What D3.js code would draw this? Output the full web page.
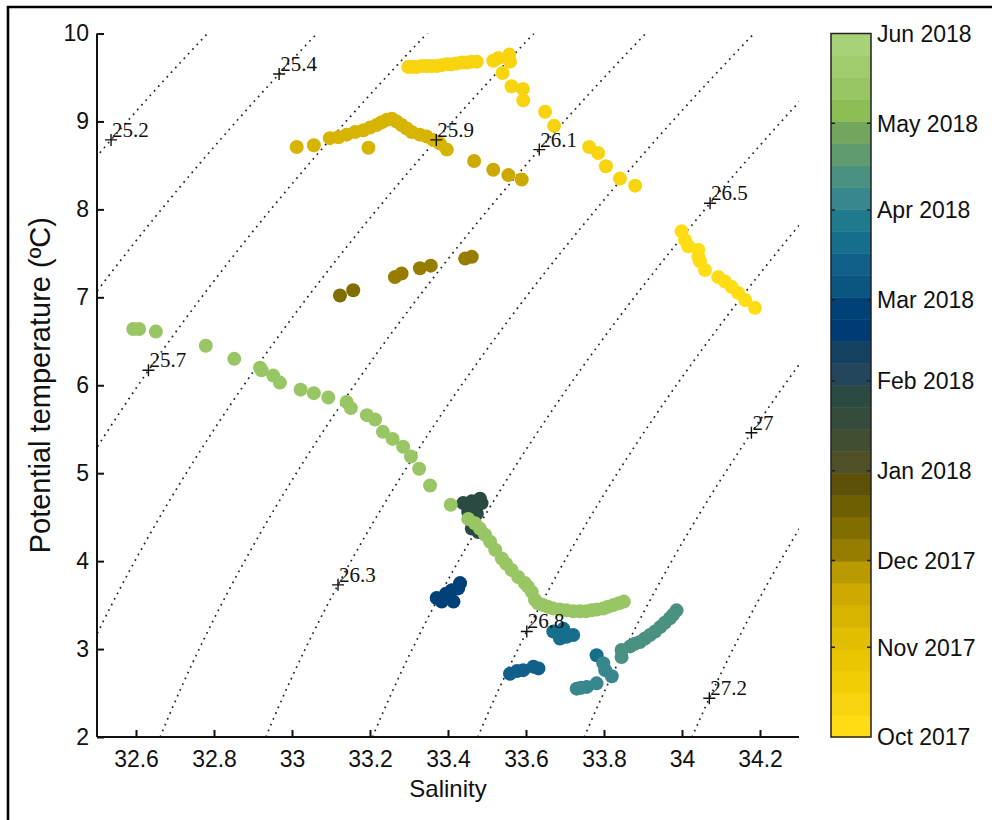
<!DOCTYPE html>
<html><head><meta charset="utf-8">
<script src="https://cdn.jsdelivr.net/npm/d3@7"></script>
<style>body{margin:0;background:#fff} svg{display:block}</style>
</head><body>
<svg id="chart" width="992" height="820"></svg>
<script>
// ---------------- DATA ----------------
const xTicks = [32.6, 32.8, 33, 33.2, 33.4, 33.6, 33.8, 34, 34.2];
const yTicks = [2, 3, 4, 5, 6, 7, 8, 9, 10];
const cbTickDates = ["2017-10-01","2017-11-01","2017-12-01","2018-01-01","2018-02-01","2018-03-01","2018-04-01","2018-05-01","2018-06-01"];
const cbTickLabels = ["Oct 2017","Nov 2017","Dec 2017","Jan 2018","Feb 2018","Mar 2018","Apr 2018","May 2018","Jun 2018"];

// isopycnal labels and the (S, T) point where each label sits on its line
const isoLabels  = ["25.2","25.4","25.7","25.9","26.1","26.3","26.5","26.8","27","27.2"];
const isoAnchorS = [32.536, 32.967, 32.632, 33.370, 33.634, 33.118, 34.072, 33.602, 34.178, 34.070];
const isoAnchorT = [8.79, 9.54, 6.17, 8.79, 8.68, 3.73, 8.07, 3.20, 5.46, 2.44];

// observations: salinity, potential temperature, date
const salinity = [
 // early Oct 2017 (right cluster)
 33.999,34.008,34.016,34.042,34.042,34.046,34.059,34.093,34.110,34.127,34.144,34.162,34.187,
 // Oct 2017 upper band
 33.298,33.309,33.320,33.332,33.345,33.358,33.371,33.384,33.397,33.409,33.422,33.435,33.448,33.461,33.474,33.516,33.529,33.557,33.559,33.540,
 // Oct 2017 descending
 33.563,33.592,33.593,33.649,33.672,33.762,33.785,33.805,33.841,33.880,
 // Nov 2017
 33.012,33.056,33.097,33.119,33.140,33.162,33.183,33.200,33.217,33.230,33.243,33.256,33.268,33.281,33.294,33.307,33.328,33.345,33.362,33.379,33.397,33.196,
 33.467,33.516,33.555,33.589,
 // Dec 2017
 33.444,33.461,33.328,33.356,33.264,33.281,
 33.123,33.157,
 // late Jan 2018
 33.439,33.461,33.482,33.486,33.452,33.474,33.461,33.478,33.467,
 // Mar 2018
 33.371,33.384,33.395,33.410,33.426,33.431,33.414,
 33.559,33.593,33.619,33.632,33.577,
 33.670,33.696,33.721,33.687,33.704,
 33.781,
 // Apr 2018
 33.798,33.803,33.820,33.730,33.756,33.781,33.741,
 33.845,33.845,33.867,33.879,33.892,33.905,33.918,33.931,33.944,33.956,33.969,33.977,33.986,
 // May 2018
 32.593,32.608,32.651,32.779,32.852,32.918,32.922,32.952,32.969,33.022,33.056,33.093,33.140,33.151,33.192,33.213,33.233,33.258,33.285,33.305,33.326,33.354,33.407,
 33.452,33.469,33.482,33.495,33.508,33.521,33.538,33.549,33.563,33.580,33.597,33.605,33.615,33.623,33.631,33.644,33.656,33.670,33.687,33.704,33.721,33.738,33.754,33.768,33.782,33.798,33.810,33.824,33.838,33.851
];
const temperature = [
 7.75,7.65,7.58,7.54,7.46,7.41,7.31,7.23,7.18,7.12,7.05,6.97,6.88,
 9.62,9.62,9.62,9.63,9.63,9.63,9.63,9.64,9.65,9.65,9.66,9.67,9.67,9.68,9.68,9.69,9.72,9.76,9.68,9.55,
 9.40,9.37,9.24,9.11,8.95,8.71,8.64,8.49,8.35,8.27,
 8.71,8.73,8.81,8.82,8.85,8.88,8.90,8.93,8.96,8.99,9.02,9.03,9.00,8.96,8.92,8.88,8.85,8.83,8.79,8.75,8.68,8.70,
 8.55,8.45,8.39,8.34,
 7.44,7.46,7.33,7.36,7.23,7.27,
 7.02,7.08,
 4.66,4.68,4.71,4.66,4.56,4.54,4.37,4.33,4.47,
 3.58,3.54,3.63,3.67,3.69,3.75,3.54,
 2.72,2.76,2.80,2.78,2.75,
 3.20,3.23,3.16,3.12,3.14,
 2.93,
 2.84,2.76,2.69,2.55,2.57,2.61,2.56,
 2.91,2.99,3.03,3.06,3.08,3.12,3.16,3.20,3.25,3.30,3.35,3.39,3.44,
 6.64,6.64,6.61,6.45,6.30,6.20,6.17,6.11,6.03,5.95,5.91,5.86,5.81,5.74,5.66,5.61,5.47,5.39,5.30,5.19,5.05,4.86,4.64,
 4.48,4.43,4.37,4.30,4.22,4.13,4.03,3.97,3.90,3.82,3.75,3.71,3.65,3.56,3.52,3.50,3.48,3.46,3.45,3.44,3.43,3.43,3.43,3.44,3.45,3.46,3.48,3.50,3.52,3.54
];
const groupDates = [
 ["2017-10-04",13],["2017-10-10",20],["2017-10-16",10],["2017-11-10",22],["2017-11-16",4],
 ["2017-12-05",6],["2017-12-12",2],["2018-01-28",9],["2018-03-01",7],["2018-03-12",5],
 ["2018-03-18",5],["2018-03-22",1],["2018-04-05",7],["2018-04-10",13],["2018-05-12",23],["2018-05-14",30]
];
const dates = groupDates.flatMap(([d,n]) => Array(n).fill(d));

// colormap, bottom (Oct 2017) to top (Jun 2018), 32 levels
const colormap = [
 "#ffdc14","#f8d40f","#f0cd05","#ebc600","#e1be00","#d7b400","#cdaa00","#b99b00",
 "#967d00","#826e00","#6e5f00","#5f5008","#505028","#414e32","#374b3c","#2b4a42",
 "#23465a","#14415f","#003c73","#004178","#0a5582","#125f8c","#146e8c","#1e7a8c",
 "#37878c","#4b9182","#5f9b6e","#73a55f","#8cbe55","#98c664","#a0cc6e","#a8d278"
];

// ---------------- CHART ----------------
const svg = d3.select("#chart");
const W = 992, H = 820;
const plot = {left: 97, right: 799, top: 33.5, bottom: 737};

const x = d3.scaleLinear().domain([32.5, 34.3]).range([plot.left, plot.right]);
const y = d3.scaleLinear().domain([2, 10]).range([plot.bottom, plot.top]);

const parse = d3.timeParse("%Y-%m-%d");
const tDomain = [parse(cbTickDates[0]), parse(cbTickDates[cbTickDates.length-1])];
const cbY = d3.scaleTime().domain(tDomain).range([plot.bottom, plot.top]);
const tNorm = d3.scaleTime().domain(tDomain).range([0, 1]).clamp(true);
const colorOf = d => colormap[Math.min(colormap.length-1, Math.floor(tNorm(parse(d)) * colormap.length))];

// outer frame (left and top edges visible)
svg.append("path").attr("d", `M8,${H} V7 H${W}`).attr("fill","none").attr("stroke","#000").attr("stroke-width",2.6);

// clip
svg.append("clipPath").attr("id","clip").append("rect")
  .attr("x", plot.left).attr("y", plot.top).attr("width", plot.right-plot.left).attr("height", plot.bottom-plot.top);

// EOS-80 sigma-theta at p = 0
function sigma(S, T){
  const T2=T*T, T3=T2*T, T4=T3*T, T5=T4*T;
  const rw = 999.842594 + 6.793952e-2*T - 9.095290e-3*T2 + 1.001685e-4*T3 - 1.120083e-6*T4 + 6.536332e-9*T5;
  const A = 8.24493e-1 - 4.0899e-3*T + 7.6438e-5*T2 - 8.2467e-7*T3 + 5.3875e-9*T4;
  const B = -5.72466e-3 + 1.0227e-4*T - 1.6546e-6*T2;
  const C = 4.8314e-4;
  return rw + A*S + B*S*Math.sqrt(S) + C*S*S - 1000;
}
function salAt(level, T){
  let lo = 28, hi = 38;
  for (let i=0;i<60;i++){ const m=(lo+hi)/2; if (sigma(m,T) < level) lo=m; else hi=m; }
  return (lo+hi)/2;
}
const levels = isoAnchorS.map((s,i) => sigma(s, isoAnchorT[i]));
const tGrid = d3.range(1.8, 10.21, 0.04);
const line = d3.line().x(d => x(d[0])).y(d => y(d[1]));

const iso = svg.append("g").attr("clip-path","url(#clip)");
levels.forEach(lv => {
  const pts = tGrid.map(T => [salAt(lv, T), T]);
  iso.append("path").attr("d", line(pts)).attr("fill","none")
    .attr("stroke","#222").attr("stroke-width",1.7).attr("stroke-dasharray","1.7 4.6");
});

// axes
const gx = svg.append("g").attr("transform",`translate(0,${plot.bottom})`)
  .call(d3.axisBottom(x).tickValues(xTicks).tickFormat(d3.format("~g")).tickSizeInner(-7).tickSizeOuter(0).tickPadding(14));
const gy = svg.append("g").attr("transform",`translate(${plot.left},0)`)
  .call(d3.axisLeft(y).tickValues(yTicks).tickFormat(d3.format("~g")).tickSizeInner(-7).tickSizeOuter(0).tickPadding(8));
[gx, gy].forEach(g => {
  g.select(".domain").attr("stroke","#111").attr("stroke-width",2);
  g.selectAll(".tick line").attr("stroke","#111").attr("stroke-width",2);
  g.selectAll(".tick text").attr("fill","#111").style("font-family","'Liberation Sans', Arial, sans-serif").style("font-size","23px");
});
gy.select(".domain").attr("d", `M0,${plot.bottom}V${plot.top}`);
gx.select(".domain").attr("d", `M${plot.left},0H${plot.right}`);

// points
svg.append("g").selectAll("circle")
  .data(salinity.map((s,i) => ({s, t: temperature[i], d: dates[i]})).sort((a,b) => d3.ascending(a.d,b.d)))
  .join("circle")
  .attr("cx", d => x(d.s)).attr("cy", d => y(d.t)).attr("r", 7)
  .attr("fill", d => colorOf(d.d));

// isopycnal labels
const lab = svg.append("g");
levels.forEach((lv, i) => {
  const T = isoAnchorT[i], S = salAt(lv, T);
  const px = x(S), py = y(T);
  lab.append("path").attr("d", `M${px-6},${py}H${px+6}M${px},${py-6}V${py+6}`)
    .attr("stroke","#111").attr("stroke-width",1.4);
  lab.append("text").attr("x", px+1).attr("y", py-3).text(isoLabels[i])
    .style("font-family","'Liberation Serif','Times New Roman',serif").style("font-size","21px").attr("fill","#111");
});

// axis labels
svg.append("text").attr("x", (plot.left+plot.right)/2).attr("y", 797).attr("text-anchor","middle")
  .style("font-family","'Liberation Sans', Arial, sans-serif").style("font-size","24px").attr("fill","#111").text("Salinity");
svg.append("text").attr("transform",`translate(50,${(plot.top+plot.bottom)/2}) rotate(-90)`).attr("text-anchor","middle")
  .style("font-family","'Liberation Sans', Arial, sans-serif").style("font-size","29px").attr("fill","#111").text("Potential temperature (ºC)");

// colorbar
const cb = {left: 831, right: 871};
const nB = colormap.length;
const bandH = (plot.bottom - plot.top) / nB;
svg.append("g").selectAll("rect").data(colormap).join("rect")
  .attr("x", cb.left).attr("width", cb.right-cb.left)
  .attr("y", (c,i) => plot.bottom - (i+1)*bandH).attr("height", bandH + 0.5)
  .attr("fill", c => c);
svg.append("rect").attr("x", cb.left).attr("y", plot.top).attr("width", cb.right-cb.left).attr("height", plot.bottom-plot.top)
  .attr("fill","none").attr("stroke","#222").attr("stroke-width",1.5);
const cbt = svg.append("g");
cbTickDates.forEach((ds, i) => {
  const yy = cbY(parse(ds));
  if (i>0 && i<cbTickDates.length-1) {
    cbt.append("path").attr("d", `M${cb.left},${yy}h4M${cb.right},${yy}h-4`).attr("stroke","#222").attr("stroke-width",1.5);
  }
  cbt.append("text").attr("x", cb.right+6).attr("y", yy).attr("dy","0.36em").text(cbTickLabels[i])
    .style("font-family","'Liberation Sans', Arial, sans-serif").style("font-size","23px").attr("fill","#111");
});
</script>
</body></html>
